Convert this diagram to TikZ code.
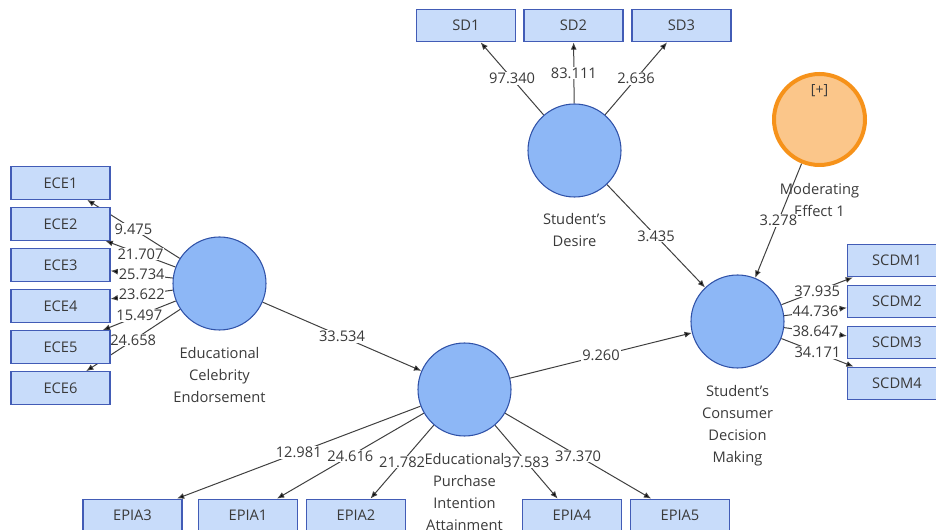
\documentclass[tikz,border=0pt]{standalone}
\usepackage{fontspec}
\setmainfont{Open Sans}
\usetikzlibrary{positioning,arrows.meta}
\definecolor{lvfill}{RGB}{141,183,246}
\definecolor{lvdraw}{RGB}{48,82,168}
\definecolor{itemfill}{RGB}{200,220,250}
\definecolor{itemdraw}{RGB}{66,92,182}
\definecolor{modfill}{RGB}{251,198,138}
\definecolor{moddraw}{RGB}{246,146,26}
\definecolor{txt}{RGB}{58,58,58}
\definecolor{linegray}{RGB}{64,64,64}
\pgfdeclarelayer{back}
\pgfsetlayers{back,main}

\begin{document}
\begin{tikzpicture}[x=0.75pt,y=-0.75pt,
  latent node/.style={circle,draw=lvdraw,fill=lvfill,line width=0.8pt,minimum size=69.75pt,inner sep=0pt},
  moderator node/.style={circle,draw=moddraw,fill=modfill,line width=3pt,minimum size=68.25pt,inner sep=0pt},
  item node/.style={rectangle,draw=itemdraw,fill=itemfill,line width=0.9pt,minimum width=74.25pt,minimum height=24.4pt,inner sep=0pt,font=\fontsize{11}{13}\selectfont,text=txt},
  latent text/.style={align=center,inner sep=0pt,font=\fontsize{11}{16.5}\selectfont,text=txt},
  tag text/.style={inner sep=0pt,font=\fontsize{10.5}{12}\selectfont,text=txt},
  value node/.style={fill=white,inner sep=0.6pt,font=\fontsize{11}{13}\selectfont,text=txt},
  path line/.style={draw=linegray,line width=0.75pt,-{Latex[length=5.5pt,width=4.5pt]}}]
  \useasboundingbox (0,0) rectangle (936,530);
  \clip (0,0) rectangle (936,530);

  \node[latent node] (ece) at (219.5,283.5) {};
  \node[latent node] (epia) at (464.5,389.5) {};
  \node[latent node] (sd) at (574.5,150.5) {};
  \node[latent node] (scdm) at (737.5,321.5) {};
  \node[moderator node] (mod) at (819.5,119.5) {};
  \node[tag text] (modtag) at (819.5,91) {[+]};

  \node[item node] (ece1) at (60.5,183) {ECE1};
  \node[item node] (ece2) at (60.5,224) {ECE2};
  \node[item node] (ece3) at (60.5,265) {ECE3};
  \node[item node] (ece4) at (60.5,306) {ECE4};
  \node[item node] (ece5) at (60.5,347) {ECE5};
  \node[item node] (ece6) at (60.5,388) {ECE6};
  \node[item node] (sd1) at (466,25.5) {SD1};
  \node[item node] (sd2) at (573.5,25.5) {SD2};
  \node[item node] (sd3) at (681.5,25.5) {SD3};
  \node[item node] (epia3) at (132.5,515.5) {EPIA3};
  \node[item node] (epia1) at (248,515.5) {EPIA1};
  \node[item node] (epia2) at (356,515.5) {EPIA2};
  \node[item node] (epia4) at (572,515.5) {EPIA4};
  \node[item node] (epia5) at (680,515.5) {EPIA5};
  \node[item node] (scdm1) at (897,260.5) {SCDM1};
  \node[item node] (scdm2) at (897,301.5) {SCDM2};
  \node[item node] (scdm3) at (897,342.5) {SCDM3};
  \node[item node] (scdm4) at (897,383.5) {SCDM4};

  \begin{pgfonlayer}{back}
  \node[latent text, below=12.5pt of ece] (ecetext) {Educational\\Celebrity\\Endorsement};
  \node[latent text, below=12.5pt of epia] (epiatext) {Educational\\Purchase\\Intention\\Attainment};
  \node[latent text, below=12pt of sd] (sdtext) {Student’s\\Desire};
  \node[latent text, below=12.5pt of scdm] (scdmtext) {Student’s\\Consumer\\Decision\\Making};
  \node[latent text, below=12pt of mod] (modtext) {Moderating\\Effect 1};

  \path[] (ece) [path line] edge node [value node] {9.475} (ece1);
  \path[] (ece) [path line] edge node [value node] {21.707} (ece2);
  \path[] (ece) [path line] edge node [value node] {25.734} (ece3);
  \path[] (ece) [path line] edge node [value node] {23.622} (ece4);
  \path[] (ece) [path line] edge node [value node] {15.497} (ece5);
  \path[] (ece) [path line] edge node [value node] {24.658} (ece6);
  \path[] (ece) [path line] edge node [value node] {33.534} (epia);
  \path[] (epia) [path line] edge node [value node] {12.981} (epia3);
  \path[] (epia) [path line] edge node [value node] {24.616} (epia1);
  \path[] (epia) [path line] edge node [value node] {21.782} (epia2);
  \path[] (epia) [path line] edge node [value node] {37.583} (epia4);
  \path[] (epia) [path line] edge node [value node] {37.370} (epia5);
  \path[] (epia) [path line] edge node [value node] {9.260} (scdm);
  \path[] (sd) [path line] edge node [value node] {97.340} (sd1);
  \path[] (sd) [path line] edge node [value node] {83.111} (sd2);
  \path[] (sd) [path line] edge node [value node] {2.636} (sd3);
  \path[] (sd) [path line] edge node [value node] {3.435} (scdm);
  \path[] (mod) [path line] edge node [value node] {3.278} (scdm);
  \path[] (scdm) [path line] edge node [value node] {37.935} (scdm1);
  \path[] (scdm) [path line] edge node [value node] {44.736} (scdm2);
  \path[] (scdm) [path line] edge node [value node] {38.647} (scdm3);
  \path[] (scdm) [path line] edge node [value node] {34.171} (scdm4);
  \end{pgfonlayer}
\end{tikzpicture}
\end{document}
